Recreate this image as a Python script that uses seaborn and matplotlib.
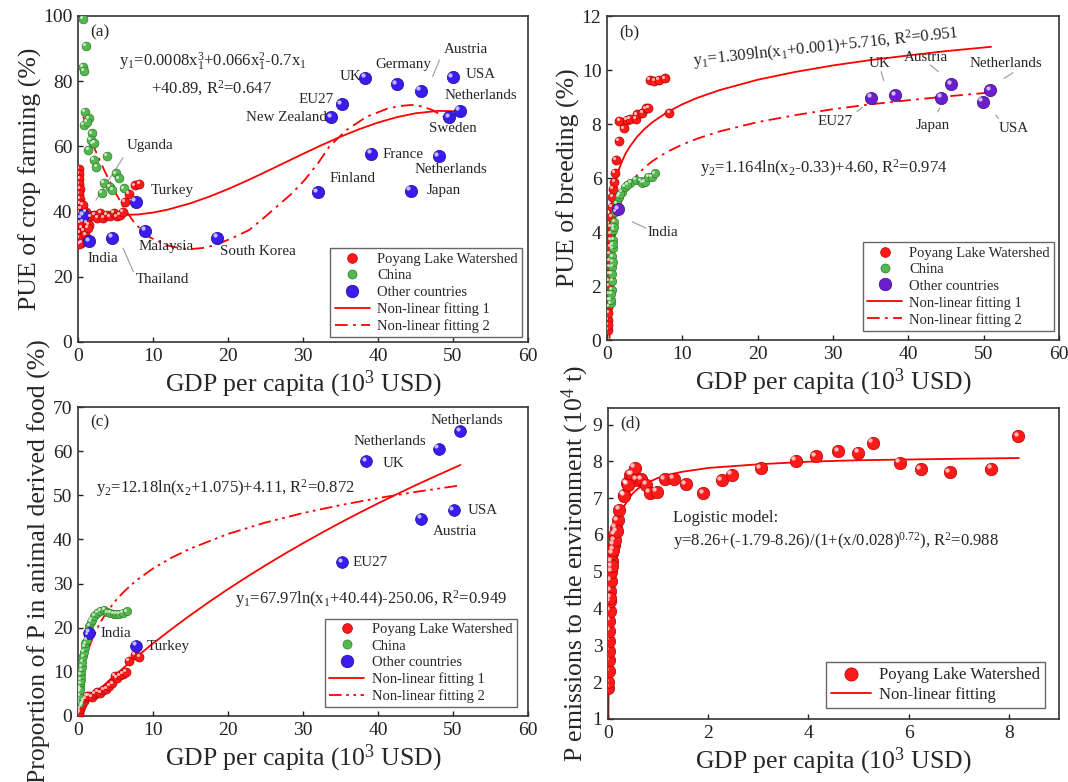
import numpy as np
import matplotlib
matplotlib.use("Agg")
import matplotlib.pyplot as plt
import matplotlib.transforms as mtrans
from matplotlib.lines import Line2D
import seaborn as sns

# ---------------- data ----------------
# (a) PUE of crop farming
a_red_x = [0.10, 0.15, 0.20, 0.10, 0.25, 0.15, 0.30, 0.20, 0.35, 0.10, 0.40, 0.25, 0.50, 0.30, 0.15, 0.45, 0.60, 0.20, 0.70, 0.80,
           1.0, 1.2, 1.5, 1.7, 2.2, 2.6, 3.0, 3.4, 3.9, 4.3, 4.8, 5.2, 5.6, 6.0, 6.3, 6.8, 7.6, 8.2, 1.1, 1.3]
a_red_y = [53, 51.5, 50, 48.5, 47, 45.5, 44, 42.5, 41, 39.5, 38, 36.5, 35, 33.5, 32, 30.5, 37, 30, 42, 34,
           33, 36.5, 36, 38.5, 39, 38, 39.5, 38, 39, 38.5, 39.5, 38.5, 39, 40, 43, 45.5, 48, 48.5, 40, 35]
a_green_x = [0.7, 1.05, 0.7, 0.8, 0.9, 1.5, 0.8, 1.85, 2.0, 1.4, 3.9, 2.1, 2.45, 5.1, 5.5, 3.5, 4.3, 4.6, 3.2, 6.1, 1.2, 1.7, 2.2]
a_green_y = [99, 90.8, 84.4, 83.1, 70.6, 68.6, 66.5, 64, 60.9, 58.9, 57, 55.8, 53.7, 51.7, 50.2, 48.8, 47.6, 46.6, 45.7, 47.1, 67.5, 62, 61]
a_blue_x = [0.7, 1.5, 4.6, 7.7, 9.0, 18.6, 32.0, 33.8, 35.2, 38.3, 39.1, 42.5, 45.7, 44.4, 48.1, 49.5, 50.0, 50.9]
a_blue_y = [38.9, 30.9, 32.0, 43.0, 34.1, 32.0, 45.9, 68.9, 73.0, 81.0, 57.8, 79.0, 77.0, 46.4, 57.0, 68.9, 81.2, 70.9]
a_fit1_x = [0.5, 2, 5, 8, 10, 12, 15, 17.5, 20, 22.5, 25, 27.5, 30, 32.5, 35, 37.5, 40, 42.5, 45, 48, 51]
a_fit1_y = [40.56, 39.75, 38.94, 39.10, 39.69, 40.61, 42.54, 44.57, 46.89, 49.44, 52.14, 54.91, 57.69, 60.39,
            62.94, 65.26, 67.29, 68.94, 70.14, 70.88, 70.74]
a_fit2_x = [0.7, 1.4, 2.1, 3.5, 4.8, 6.2, 7.6, 9.5, 11.8, 13.5, 15.0, 17.0, 18.6, 20.5, 22.8, 24.5, 26.5, 28.5,
            30.2, 32.0, 33.5, 35.8, 38.5, 41.3, 43.0, 44.5, 46.0, 47.3, 49.1, 49.8]
a_fit2_y = [69.1, 64.5, 59.9, 52.7, 46.6, 40.9, 36.3, 32.2, 29.7, 28.8, 28.5, 28.9, 30.0, 31.8, 34.3, 37.5, 41.5, 45.5,
            49.6, 54.8, 59.9, 65.0, 69.1, 71.6, 72.4, 72.7, 72.2, 71.1, 68.6, 67.0]

# (b) PUE of breeding
b_red_x = [0.10, 0.15, 0.20, 0.25, 0.30, 0.35, 0.40, 0.50, 0.55, 0.60, 0.65, 0.73, 0.80, 1.0, 1.1, 1.24, 1.55, 1.65,
           2.3, 2.66, 3.1, 3.8, 4.0, 4.7, 5.2, 5.5, 5.65, 6.3, 6.9, 7.7, 8.3, 0.12, 0.18, 0.22, 0.28, 0.33, 0.38, 0.45, 0.52]
b_red_y = [0.37, 0.74, 1.23, 1.73, 2.2, 2.7, 3.2, 3.7, 4.2, 4.57, 4.94, 5.3, 5.6, 5.86, 6.2, 6.67, 7.38, 8.12,
           7.84, 8.15, 8.19, 8.2, 8.36, 8.4, 8.58, 8.6, 9.63, 9.6, 9.63, 9.69, 8.4, 0.55, 1.0, 1.5, 2.0, 2.45, 2.95, 3.45, 3.95]
b_green_x = [0.55, 0.55, 0.64, 0.70, 0.73, 0.73, 0.78, 0.83, 0.87, 0.96, 1.1, 1.3, 1.56, 2.0, 2.4, 3.1, 3.8, 4.5,
             4.7, 5.0, 5.5, 6.0, 6.4, 0.68, 0.75, 0.80, 0.90, 1.7, 2.7, 0.60]
b_green_y = [1.36, 1.48, 1.85, 2.2, 2.7, 3.1, 3.4, 3.7, 4.07, 4.38, 4.75, 5.06, 5.3, 5.5, 5.68, 5.83, 5.93, 5.9,
             5.83, 5.86, 6.05, 6.05, 6.17, 2.45, 2.9, 3.55, 4.2, 5.4, 5.75, 1.7]
b_other_x = [1.5, 35.1, 38.3, 44.4, 45.7, 49.9, 50.9]
b_other_y = [4.85, 8.98, 9.07, 8.98, 9.48, 8.83, 9.26]
b_fit1_x = [0.012, 0.02, 0.03, 0.05, 0.075, 0.1, 0.15, 0.2, 0.3, 0.5, 0.7, 1, 1.5, 2, 2.5, 3, 4, 5, 6, 8, 10,
            12, 15, 20, 25, 30, 35, 40, 45, 51]
b_fit1_y = [0.0, 0.66, 1.17, 1.82, 2.34, 2.71, 3.24, 3.62, 4.14, 4.81, 5.25, 5.72, 6.25, 6.62, 6.92, 7.15, 7.53,
            7.82, 8.06, 8.44, 8.73, 8.97, 9.26, 9.64, 9.93, 10.17, 10.37, 10.54, 10.70, 10.86]
b_fit2_x = [0.35, 0.36, 0.38, 0.4, 0.45, 0.5, 0.6, 0.7, 0.85, 1, 1.25, 1.5, 2, 2.5, 3, 4, 5, 6, 8, 10, 12, 15,
            20, 25, 30, 35, 40, 45, 51]
b_fit2_y = [0.05, 0.52, 1.11, 1.5, 2.13, 2.54, 3.08, 3.44, 3.84, 4.13, 4.50, 4.78, 5.20, 5.50, 5.74, 6.11, 6.39,
            6.62, 6.97, 7.24, 7.46, 7.73, 8.07, 8.33, 8.55, 8.73, 8.88, 9.02, 9.17]

# (c) proportion of P in animal derived food
c_red_x = [0.1, 0.2, 0.3, 0.45, 0.6, 0.8, 1.0, 1.2, 1.5, 1.9, 2.3, 2.6, 3.0, 3.4, 3.8, 4.2, 4.6, 4.9, 5.2, 5.6,
           6.0, 6.4, 6.8, 7.6, 8.2]
c_red_y = [0.4, 1.0, 1.6, 2.2, 2.8, 3.4, 4.0, 4.6, 4.6, 4.3, 5.0, 5.5, 5.3, 5.9, 6.2, 6.9, 7.4, 9.0, 8.6, 9.2,
           9.6, 10.0, 12.4, 13.8, 13.4]
c_green_x = [0.1, 0.14, 0.2, 0.25, 0.3, 0.35, 0.4, 0.45, 0.5, 0.6, 0.7, 0.8, 0.9, 1.0, 1.15, 1.3, 1.5, 1.7, 1.85,
             2.2, 2.6, 3.0, 3.5, 3.9, 4.3, 4.75, 5.1, 5.5, 6.0, 6.5, 0.2, 0.3]
c_green_y = [3.0, 3.6, 5.5, 6.5, 7.4, 8.2, 9.3, 10.2, 11.2, 12.3, 13.5, 14.5, 15.7, 16.5, 17.2, 18.5, 20.5, 21.3, 21.8,
             22.7, 23.3, 23.8, 24.0, 23.5, 23.3, 23.2, 23.1, 23.1, 23.4, 23.7, 4.5, 6.0]
c_blue_x = [1.5, 7.75, 35.2, 38.4, 45.8, 48.1, 50.1, 51.0]
c_blue_y = [18.9, 15.9, 34.8, 57.7, 44.7, 60.6, 46.7, 64.6]
c_fit1_x = [0, 2.5, 5, 7.5, 10, 12.5, 15, 17.5, 20, 22.5, 25, 27.5, 30, 32.5, 35, 37.5, 40, 42.5, 45, 48, 51]
c_fit1_y = [1.42, 5.49, 9.34, 12.98, 16.43, 19.72, 22.86, 25.86, 28.73, 31.49, 34.13, 36.68, 39.13, 41.50,
            43.80, 46.02, 48.16, 50.23, 52.26, 54.60, 56.87]
c_fit2_x = [0.3, 0.45, 0.6, 0.8, 1, 1.25, 1.5, 2, 2.5, 3, 3.5, 4, 5, 6, 7, 8, 10, 12.5, 15, 20, 25, 30, 35, 40, 45, 51]
c_fit2_y = [7.99, 9.25, 10.39, 11.77, 13.00, 14.39, 15.63, 17.79, 19.63, 21.22, 22.63, 23.89, 26.09, 27.94, 29.55,
            30.97, 33.40, 35.88, 37.94, 41.24, 43.83, 45.97, 47.78, 49.36, 50.76, 52.25]

# (d) P emissions to the environment
d_red_x = [0.005, 0.008, 0.01, 0.012, 0.015, 0.018, 0.02, 0.025, 0.03, 0.033, 0.04, 0.05, 0.06, 0.07, 0.087, 0.11,
           0.127, 0.15, 0.19, 0.22, 0.31, 0.37, 0.44, 0.48, 0.53, 0.57, 0.66, 0.76, 0.83, 0.97, 1.13, 1.31, 1.55,
           1.9, 2.27, 2.47, 3.05, 3.75, 4.15, 4.59, 4.99, 5.28, 5.82, 6.24, 6.82, 7.65, 8.19, 0.1, 0.13, 0.17,
           0.045, 0.075, 0.39, 0.32]
d_red_y = [1.85, 2.0, 2.3, 2.6, 2.86, 3.13, 3.4, 3.67, 3.94, 4.2, 4.48, 4.75, 5.0, 5.29, 5.5, 5.74,
           6.0, 6.2, 6.4, 6.68, 7.09, 7.4, 7.63, 7.64, 7.82, 7.5, 7.52, 7.36, 7.15, 7.17, 7.52, 7.53, 7.38,
           7.13, 7.49, 7.63, 7.81, 8.01, 8.14, 8.27, 8.23, 8.5, 7.96, 7.79, 7.7, 7.8, 8.68, 5.6, 5.85, 6.1,
           4.3, 5.15, 7.36, 7.06]
d_fit_x = [0.0074, 0.01, 0.015, 0.02, 0.03, 0.04, 0.05, 0.075, 0.1, 0.15, 0.2, 0.25, 0.3, 0.4, 0.5, 0.6, 0.75,
           1, 1.25, 1.5, 2, 3, 4, 5, 6, 7, 8.2]
d_fit_y = [1.0, 1.45, 2.13, 2.63, 3.36, 3.88, 4.27, 4.95, 5.39, 5.95, 6.30, 6.54, 6.72, 6.97, 7.14, 7.26, 7.40,
           7.55, 7.65, 7.72, 7.82, 7.92, 7.99, 8.03, 8.05, 8.07, 8.09]

# ---------------- style ----------------
sns.set_theme(style="ticks")
plt.rcParams["font.family"] = ["Liberation Serif", "DejaVu Serif"]
plt.rcParams["mathtext.fontset"] = "custom"
plt.rcParams["mathtext.rm"] = "Liberation Serif"
plt.rcParams["mathtext.it"] = "Liberation Serif:italic"
plt.rcParams["mathtext.bf"] = "Liberation Serif:bold"

RED, RED_E = "#ff1a1a", "#b00000"
GREEN, GREEN_E = "#55b84f", "#2e7d2a"
BLUE, BLUE_E = "#3a1cf0", "#1a0a90"
PURPLE, PURPLE_E = "#6a1ed0", "#3a0a80"
LEAD = "#9a9a9a"
DASHDOT = (0, (7, 3, 1.5, 3))
DASHDOTDOT = (0, (7, 2.5, 1.5, 2.5, 1.5, 2.5))

TICK_FS = 14
LABEL_FS = 18.5
ANN_FS = 10.8
EQ_FS = 12
LEG_FS = 10.5

fig = plt.figure(figsize=(10.68, 7.82), dpi=100)
ax_a = fig.add_axes([0.073, 0.5627, 0.4213, 0.4169])
ax_b = fig.add_axes([0.5683, 0.5652, 0.4232, 0.4143])
ax_c = fig.add_axes([0.073, 0.0844, 0.4213, 0.3951])
ax_d = fig.add_axes([0.5693, 0.0806, 0.4223, 0.3977])


def spheres(ax, x, y, color, edge, size):
    sns.scatterplot(x=x, y=y, ax=ax, s=size, color=color, edgecolor=edge, linewidth=0.5,
                    zorder=3, legend=False)
    d = np.sqrt(size)
    hl = mtrans.offset_copy(ax.transData, fig=ax.figure, x=-0.2 * d, y=0.2 * d, units="points")
    ax.scatter(x, y, s=size * 0.12, color="white", alpha=0.7, linewidth=0, transform=hl, zorder=4)


def fit(ax, x, y, ls="-"):
    sns.lineplot(x=x, y=y, ax=ax, color="#ff0000", linewidth=1.3, sort=False, estimator=None,
                 linestyle=ls, zorder=2, legend=False)


def style_axes(ax, xlim, ylim, xticks, yticks, ylabel, tag):
    ax.set_xlim(*xlim)
    ax.set_ylim(*ylim)
    ax.set_xticks(xticks)
    ax.set_yticks(yticks)
    ax.tick_params(direction="in", length=3.5, width=1, labelsize=TICK_FS, pad=4, colors="#222222")
    for s in ax.spines.values():
        s.set_visible(True)
        s.set_linewidth(1.2)
        s.set_color("#333333")
    ax.set_xlabel("GDP per capita (10$^3$ USD)", fontsize=LABEL_FS, labelpad=3)
    ax.set_ylabel(ylabel, fontsize=LABEL_FS, labelpad=1)
    ax.text(0.028, 0.975, tag, transform=ax.transAxes, ha="left", va="top", fontsize=12.5)


def legend(ax, entries, anchor, fs=LEG_FS):
    handles = []
    labels = []
    for kind, col, edge, lab in entries:
        if kind == "m":
            handles.append(Line2D([], [], marker="o", linestyle="none", markersize=col[1],
                                  markerfacecolor=col[0], markeredgecolor=edge, markeredgewidth=0.5))
        else:
            handles.append(Line2D([], [], color="#ff0000", linewidth=1.3, linestyle=kind))
        labels.append(lab)
    lg = ax.legend(handles, labels, loc="lower right", bbox_to_anchor=anchor, fontsize=fs,
                   frameon=True, fancybox=False, framealpha=1, edgecolor="#666666",
                   handlelength=2.4, handletextpad=0.5, labelspacing=0.22, borderpad=0.3,
                   borderaxespad=0)
    lg.get_frame().set_linewidth(1.0)


def leader(ax, xs, ys):
    ax.plot(xs, ys, color=LEAD, linewidth=0.8, zorder=1)


# ---------------- (a) ----------------
ax = ax_a
fit(ax, a_fit1_x, a_fit1_y)
fit(ax, a_fit2_x, a_fit2_y, DASHDOT)
spheres(ax, a_red_x, a_red_y, RED, RED_E, 42)
spheres(ax, a_green_x, a_green_y, GREEN, GREEN_E, 40)
spheres(ax, a_blue_x, a_blue_y, BLUE, BLUE_E, 78)
style_axes(ax, (0, 60), (0, 100), range(0, 61, 10), range(0, 101, 20), "PUE of crop farming (%)", "(a)")
ax.text(5.5, 86, r"y$_1$=0.0008x$_1^3$+0.066x$_1^2$-0.7x$_1$", fontsize=EQ_FS, va="center")
ax.text(9.7, 77.8, r"+40.89, R$^2$=0.647", fontsize=EQ_FS, va="center")
for txt, x, y, ha in [("Uganda", 6.5, 60.2, "left"), ("Turkey", 9.7, 46.6, "left"),
                      ("Malaysia", 8.1, 29.2, "left"), ("South Korea", 19.0, 27.6, "left"),
                      ("India", 1.3, 25.6, "left"), ("Thailand", 7.7, 19.1, "left"),
                      ("Finland", 33.5, 50.2, "left"), ("France", 40.6, 57.6, "left"),
                      ("Netherlands", 44.9, 52.9, "left"), ("Japan", 46.5, 46.6, "left"),
                      ("New Zealand", 33.2, 68.9, "right"), ("EU27", 34.1, 74.4, "right"),
                      ("UK", 37.8, 81.4, "right"), ("Germany", 39.7, 85.0, "left"),
                      ("Austria", 48.8, 89.6, "left"), ("USA", 51.7, 81.9, "left"),
                      ("Netherlands", 48.9, 75.7, "left"), ("Sweden", 46.8, 65.5, "left")]:
    ax.text(x, y, txt, fontsize=ANN_FS, ha=ha, va="center")
leader(ax, [6.0, 2.4], [56.5, 43.5])
leader(ax, [6.0, 7.4], [28.8, 21.5])
leader(ax, [48.2, 47.3], [86.5, 81.4])
legend(ax, [("m", (RED, 7), RED_E, "Poyang Lake Watershed"),
            ("m", (GREEN, 6.5), GREEN_E, "China"),
            ("m", (BLUE, 9), BLUE_E, "Other countries"),
            ("-", None, None, "Non-linear fitting 1"),
            (DASHDOT, None, None, "Non-linear fitting 2")], (0.987, 0.015))

# ---------------- (b) ----------------
ax = ax_b
fit(ax, b_fit1_x, b_fit1_y)
fit(ax, b_fit2_x, b_fit2_y, DASHDOT)
spheres(ax, b_red_x, b_red_y, RED, RED_E, 42)
spheres(ax, b_green_x, b_green_y, GREEN, GREEN_E, 36)
spheres(ax, b_other_x, b_other_y, PURPLE, PURPLE_E, 78)
style_axes(ax, (0, 60), (0, 12), range(0, 61, 10), range(0, 13, 2), "PUE of breeding (%)", "(b)")
ax.text(29.1, 10.84, r"y$_1$=1.309ln(x$_1$+0.001)+5.716, R$^2$=0.951", fontsize=EQ_FS,
        ha="center", va="center", rotation=6)
ax.text(12.4, 6.36, r"y$_2$=1.164ln(x$_2$-0.33)+4.60, R$^2$=0.974", fontsize=EQ_FS, va="center")
for txt, x, y in [("UK", 34.8, 10.25), ("Austria", 39.4, 10.47), ("Netherlands", 48.1, 10.25),
                  ("EU27", 27.9, 8.09), ("Japan", 41.0, 7.96), ("USA", 52.0, 7.84), ("India", 5.4, 4.0)]:
    ax.text(x, y, txt, fontsize=ANN_FS, va="center")
leader(ax, [36.4, 36.75], [9.94, 9.6])
leader(ax, [42.9, 44.0], [10.19, 9.94])
leader(ax, [53.9, 52.7], [9.9, 9.69])
leader(ax, [33.2, 33.9], [8.46, 8.62])
leader(ax, [43.9, 44.2], [8.45, 8.6])
leader(ax, [51.6, 52.0], [8.33, 8.2])
leader(ax, [3.35, 5.2], [4.38, 4.14])
legend(ax, [("m", (RED, 7), RED_E, "Poyang Lake Watershed"),
            ("m", (GREEN, 6.5), GREEN_E, "China"),
            ("m", (PURPLE, 9), PURPLE_E, "Other countries"),
            ("-", None, None, "Non-linear fitting 1"),
            (DASHDOT, None, None, "Non-linear fitting 2")], (0.99, 0.028))

# ---------------- (c) ----------------
ax = ax_c
fit(ax, c_fit1_x, c_fit1_y)
fit(ax, c_fit2_x, c_fit2_y, DASHDOTDOT)
spheres(ax, c_red_x, c_red_y, RED, RED_E, 42)
spheres(ax, c_green_x, c_green_y, GREEN, GREEN_E, 36)
spheres(ax, c_blue_x, c_blue_y, BLUE, BLUE_E, 72)
style_axes(ax, (0, 60), (0, 70), range(0, 61, 10), range(0, 71, 10),
           "Proportion of P in animal derived food (%)", "(c)")
ax.text(2.45, 51.6, r"y$_2$=12.18ln(x$_2$+1.075)+4.11, R$^2$=0.872", fontsize=EQ_FS, va="center")
ax.text(21.0, 26.5, r"y$_1$=67.97ln(x$_1$+40.44)-250.06, R$^2$=0.949", fontsize=EQ_FS, va="center")
for txt, x, y in [("Netherlands", 47.0, 67.0), ("Netherlands", 36.7, 62.2), ("UK", 40.6, 57.3),
                  ("USA", 51.9, 46.6), ("Austria", 47.3, 41.8), ("EU27", 36.6, 34.8),
                  ("India", 3.0, 18.7), ("Turkey", 9.2, 15.7)]:
    ax.text(x, y, txt, fontsize=ANN_FS, va="center")
legend(ax, [("m", (RED, 7), RED_E, "Poyang Lake Watershed"),
            ("m", (GREEN, 6.5), GREEN_E, "China"),
            ("m", (BLUE, 9), BLUE_E, "Other countries"),
            ("-", None, None, "Non-linear fitting 1"),
            (DASHDOTDOT, None, None, "Non-linear fitting 2")], (0.975, 0.028))

# ---------------- (d) ----------------
ax = ax_d
fit(ax, d_fit_x, d_fit_y)
spheres(ax, d_red_x, d_red_y, RED, RED_E, 80)
style_axes(ax, (0, 9), (1, 9.45), range(0, 9, 2), range(1, 10, 1),
           "P emissions to the environment (10$^4$ t)", "(d)")
ax.text(1.3, 6.46, "Logistic model:", fontsize=EQ_FS, va="center")
ax.text(1.3, 5.83, r"y=8.26+(-1.79-8.26)/(1+(x/0.028)$^{0.72}$), R$^2$=0.988", fontsize=EQ_FS, va="center")
legend(ax, [("m", (RED, 9.5), RED_E, "Poyang Lake Watershed"),
            ("-", None, None, "Non-linear fitting")], (0.97, 0.035), fs=12)

fig.savefig("out.png", dpi=100)
